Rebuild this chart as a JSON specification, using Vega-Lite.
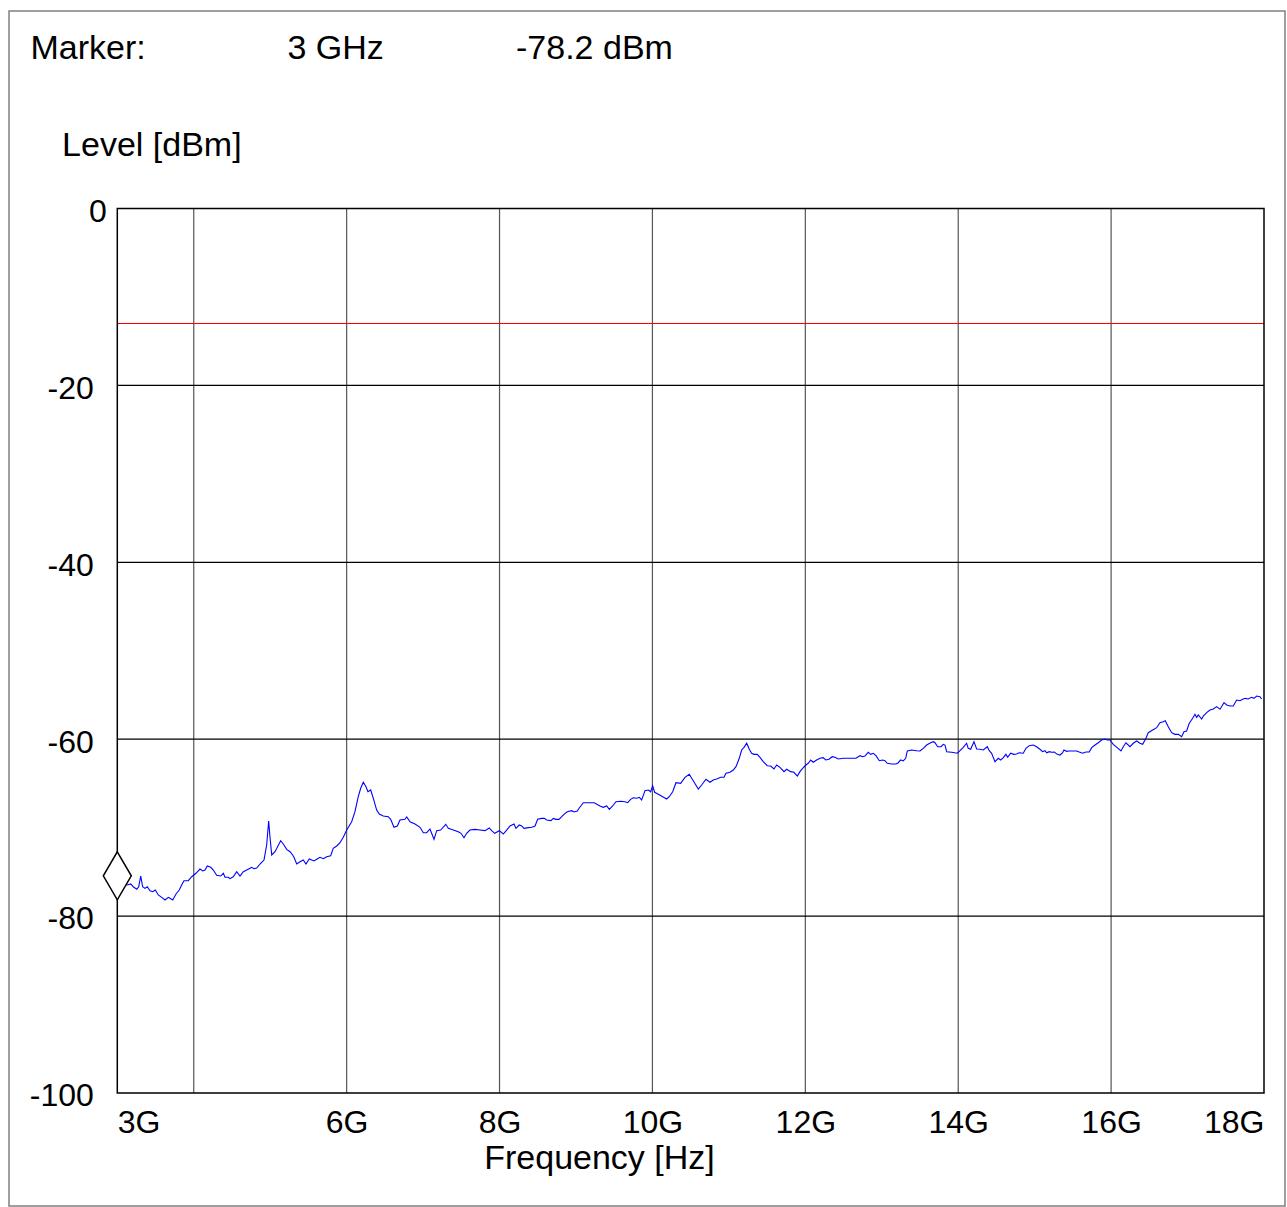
{
  "$schema": "https://vega.github.io/schema/vega-lite/v6.json",
  "autosize": {"type": "none"},
  "padding": {"left": 9, "top": 11, "right": 2, "bottom": 1},
  "width": 1276,
  "height": 1195,
  "background": "white",
  "config": {
    "font": "Liberation Sans",
    "view": {"stroke": "#808080", "strokeWidth": 1.5},
    "axis": {"labelColor": "black", "titleColor": "black", "labelFont": "Liberation Sans", "titleFont": "Liberation Sans", "labelFontWeight": "normal", "titleFontWeight": "normal"}
  },
  "title": {
    "text": "Marker:\u00a0\u00a0\u00a0\u00a0\u00a0\u00a0\u00a0\u00a0\u00a0\u00a0\u00a0\u00a0\u00a0\u00a0\u00a03 GHz\u00a0\u00a0\u00a0\u00a0\u00a0\u00a0\u00a0\u00a0\u00a0\u00a0\u00a0\u00a0\u00a0\u00a0-78.2 dBm",
    "anchor": "start",
    "frame": "group",
    "orient": "top",
    "offset": -33,
    "dx": 21.5,
    "dy": 49,
    "baseline": "alphabetic",
    "font": "Liberation Sans",
    "fontSize": 34,
    "fontWeight": "normal",
    "color": "black"
  },
  "datasets": {
    "trace": [
      {"f":3.000,"level":-76.00},{"f":3.131,"level":-76.48},{"f":3.175,"level":-76.37},{"f":3.209,"level":-76.68},{"f":3.254,"level":-76.97},{"f":3.280,"level":-76.68},{"f":3.306,"level":-75.47},{"f":3.332,"level":-76.68},{"f":3.362,"level":-76.86},{"f":3.392,"level":-76.68},{"f":3.428,"level":-77.13},{"f":3.463,"level":-77.24},{"f":3.497,"level":-77.05},{"f":3.536,"level":-77.61},{"f":3.581,"level":-77.88},{"f":3.624,"level":-78.18},{"f":3.667,"level":-77.88},{"f":3.689,"level":-77.99},{"f":3.725,"level":-78.18},{"f":3.768,"level":-77.50},{"f":3.811,"level":-77.05},{"f":3.842,"level":-76.48},{"f":3.872,"level":-76.00},{"f":3.929,"level":-76.00},{"f":3.973,"level":-75.55},{"f":4.029,"level":-75.16},{"f":4.082,"level":-74.68},{"f":4.117,"level":-74.90},{"f":4.147,"level":-74.79},{"f":4.177,"level":-74.34},{"f":4.222,"level":-74.48},{"f":4.256,"level":-74.79},{"f":4.300,"level":-75.39},{"f":4.353,"level":-75.47},{"f":4.387,"level":-75.16},{"f":4.409,"level":-75.61},{"f":4.452,"level":-75.61},{"f":4.474,"level":-75.77},{"f":4.517,"level":-75.55},{"f":4.562,"level":-74.98},{"f":4.605,"level":-75.47},{"f":4.648,"level":-74.98},{"f":4.693,"level":-74.79},{"f":4.736,"level":-74.60},{"f":4.758,"level":-74.48},{"f":4.788,"level":-74.64},{"f":4.823,"level":-74.56},{"f":4.867,"level":-74.11},{"f":4.919,"level":-73.66},{"f":4.954,"level":-71.96},{"f":4.980,"level":-69.25},{"f":4.997,"level":-71.02},{"f":5.020,"level":-73.09},{"f":5.063,"level":-72.72},{"f":5.137,"level":-71.48},{"f":5.171,"level":-71.85},{"f":5.216,"level":-72.45},{"f":5.259,"level":-72.72},{"f":5.294,"level":-73.09},{"f":5.311,"level":-73.35},{"f":5.347,"level":-74.11},{"f":5.390,"level":-73.85},{"f":5.433,"level":-73.66},{"f":5.468,"level":-74.11},{"f":5.511,"level":-73.55},
      {"f":5.573,"level":-73.77},{"f":5.608,"level":-73.58},{"f":5.651,"level":-73.35},{"f":5.695,"level":-73.51},{"f":5.739,"level":-73.28},{"f":5.791,"level":-73.17},{"f":5.825,"level":-72.34},{"f":5.870,"level":-72.07},{"f":5.913,"level":-71.70},{"f":5.956,"level":-71.09},{"f":6.001,"level":-70.27},{"f":6.066,"level":-69.33},{"f":6.109,"level":-68.20},{"f":6.152,"level":-66.50},{"f":6.184,"level":-65.55},{"f":6.218,"level":-64.87},{"f":6.253,"level":-65.37},{"f":6.279,"level":-65.94},{"f":6.315,"level":-65.74},{"f":6.349,"level":-66.68},{"f":6.393,"level":-68.01},{"f":6.427,"level":-68.46},{"f":6.479,"level":-68.68},{"f":6.545,"level":-68.76},{"f":6.576,"level":-69.06},{"f":6.619,"level":-69.96},{"f":6.663,"level":-69.81},{"f":6.698,"level":-69.14},{"f":6.763,"level":-69.06},{"f":6.786,"level":-68.80},{"f":6.829,"level":-69.33},{"f":6.894,"level":-69.59},{"f":6.960,"level":-69.96},{"f":7.003,"level":-70.57},{"f":7.047,"level":-70.57},{"f":7.090,"level":-70.15},{"f":7.143,"level":-71.32},{"f":7.178,"level":-70.34},{"f":7.230,"level":-70.27},{"f":7.296,"level":-69.62},{"f":7.330,"level":-70.08},{"f":7.395,"level":-70.27},{"f":7.460,"level":-70.46},{"f":7.496,"level":-70.64},{"f":7.535,"level":-71.14},{"f":7.570,"level":-70.64},{"f":7.613,"level":-70.27},{"f":7.679,"level":-70.19},{"f":7.744,"level":-70.27},{"f":7.810,"level":-70.34},{"f":7.866,"level":-70.04},{"f":7.897,"level":-70.34},{"f":7.937,"level":-70.64},{"f":7.997,"level":-70.34},
      {"f":8.049,"level":-70.72},{"f":8.093,"level":-70.27},{"f":8.137,"level":-69.81},{"f":8.189,"level":-69.59},{"f":8.215,"level":-70.08},{"f":8.258,"level":-69.70},{"f":8.290,"level":-69.81},{"f":8.320,"level":-70.08},{"f":8.376,"level":-70.00},{"f":8.421,"level":-69.96},{"f":8.464,"level":-69.81},{"f":8.499,"level":-69.06},{"f":8.551,"level":-68.95},{"f":8.585,"level":-68.95},{"f":8.617,"level":-69.14},{"f":8.673,"level":-69.21},{"f":8.703,"level":-68.95},{"f":8.738,"level":-69.06},{"f":8.778,"level":-69.06},{"f":8.813,"level":-68.76},{"f":8.843,"level":-68.49},{"f":8.886,"level":-68.20},{"f":8.944,"level":-68.08},{"f":8.974,"level":-68.23},{"f":9.017,"level":-68.12},{"f":9.043,"level":-67.78},{"f":9.096,"level":-67.18},{"f":9.161,"level":-67.18},{"f":9.239,"level":-67.18},{"f":9.314,"level":-67.55},{"f":9.357,"level":-67.70},{"f":9.402,"level":-67.55},{"f":9.436,"level":-67.93},{"f":9.480,"level":-67.55},{"f":9.523,"level":-67.07},{"f":9.589,"level":-67.02},{"f":9.641,"level":-67.07},{"f":9.676,"level":-67.18},{"f":9.715,"level":-66.80},{"f":9.750,"level":-66.62},{"f":9.794,"level":-66.68},{"f":9.828,"level":-66.57},{"f":9.859,"level":-66.87},{"f":9.903,"level":-65.82},{"f":9.946,"level":-65.74},{"f":9.977,"level":-65.94},{"f":10.003,"level":-65.26},{"f":10.029,"level":-66.00},{"f":10.077,"level":-66.23},{"f":10.134,"level":-66.50},{"f":10.186,"level":-66.76},{"f":10.220,"level":-66.50},{"f":10.265,"level":-65.94},{"f":10.308,"level":-64.92},{"f":10.369,"level":-64.99},{"f":10.426,"level":-64.31},{"f":10.482,"level":-63.97},
      {"f":10.542,"level":-64.81},{"f":10.600,"level":-65.63},{"f":10.644,"level":-65.18},{"f":10.700,"level":-64.53},{"f":10.753,"level":-64.87},{"f":10.796,"level":-64.61},{"f":10.840,"level":-64.50},{"f":10.893,"level":-64.31},{"f":10.936,"level":-64.31},{"f":10.962,"level":-63.86},{"f":11.014,"level":-63.74},{"f":11.058,"level":-63.48},{"f":11.093,"level":-63.11},{"f":11.136,"level":-62.16},{"f":11.167,"level":-61.22},{"f":11.198,"level":-60.92},{"f":11.233,"level":-60.46},{"f":11.267,"level":-61.14},{"f":11.298,"level":-61.59},{"f":11.328,"level":-61.71},{"f":11.371,"level":-61.71},{"f":11.407,"level":-62.05},{"f":11.450,"level":-62.54},{"f":11.502,"level":-63.00},{"f":11.547,"level":-63.03},{"f":11.590,"level":-63.37},{"f":11.625,"level":-62.92},{"f":11.668,"level":-63.18},{"f":11.721,"level":-63.67},{"f":11.756,"level":-63.40},{"f":11.808,"level":-63.67},{"f":11.851,"level":-63.74},{"f":11.895,"level":-64.16},{"f":11.930,"level":-63.67},{"f":11.965,"level":-63.29},{"f":12.008,"level":-62.92},{"f":12.039,"level":-62.72},{"f":12.070,"level":-62.35},{"f":12.104,"level":-62.61},{"f":12.148,"level":-62.35},{"f":12.192,"level":-62.16},{"f":12.235,"level":-62.09},{"f":12.266,"level":-62.35},{"f":12.309,"level":-62.27},{"f":12.352,"level":-61.98},{"f":12.388,"level":-62.05},{"f":12.431,"level":-62.24},{"f":12.497,"level":-62.16},{"f":12.584,"level":-62.16},{"f":12.662,"level":-62.16},{"f":12.693,"level":-61.98},{"f":12.715,"level":-61.86},{"f":12.750,"level":-61.98},{"f":12.780,"level":-61.90},{"f":12.823,"level":-61.48},{"f":12.855,"level":-61.71},{"f":12.889,"level":-61.59},{"f":12.924,"level":-61.86},{"f":12.968,"level":-62.43},
      {"f":13.012,"level":-62.35},{"f":13.042,"level":-62.43},{"f":13.072,"level":-62.73},{"f":13.129,"level":-62.80},{"f":13.186,"level":-62.80},{"f":13.216,"level":-62.66},{"f":13.247,"level":-62.35},{"f":13.281,"level":-62.46},{"f":13.313,"level":-62.16},{"f":13.334,"level":-61.33},{"f":13.391,"level":-61.22},{"f":13.457,"level":-61.30},{"f":13.500,"level":-61.33},{"f":13.543,"level":-61.03},{"f":13.587,"level":-60.66},{"f":13.640,"level":-60.40},{"f":13.674,"level":-60.28},{"f":13.696,"level":-60.40},{"f":13.731,"level":-60.85},{"f":13.775,"level":-60.85},{"f":13.805,"level":-60.58},{"f":13.827,"level":-60.66},{"f":13.849,"level":-61.41},{"f":13.914,"level":-61.48},{"f":13.988,"level":-61.59},{"f":14.023,"level":-61.30},{"f":14.066,"level":-60.92},{"f":14.110,"level":-60.46},{"f":14.131,"level":-61.03},{"f":14.163,"level":-61.14},{"f":14.206,"level":-60.28},{"f":14.241,"level":-61.11},{"f":14.285,"level":-61.14},{"f":14.328,"level":-61.22},{"f":14.380,"level":-60.85},{"f":14.406,"level":-61.30},{"f":14.437,"level":-61.59},{"f":14.481,"level":-62.54},{"f":14.524,"level":-62.16},{"f":14.555,"level":-62.35},{"f":14.590,"level":-62.09},{"f":14.624,"level":-61.71},{"f":14.647,"level":-62.05},{"f":14.686,"level":-61.59},{"f":14.729,"level":-61.71},{"f":14.764,"level":-61.68},{"f":14.798,"level":-61.53},{"f":14.851,"level":-61.59},{"f":14.886,"level":-61.03},{"f":14.929,"level":-60.73},{"f":14.982,"level":-60.66},{"f":15.026,"level":-60.85},{"f":15.069,"level":-61.14},{"f":15.104,"level":-61.41},{"f":15.135,"level":-61.30},{"f":15.157,"level":-61.53},{"f":15.191,"level":-61.41},{"f":15.222,"level":-61.48},{"f":15.256,"level":-61.45},{"f":15.296,"level":-61.71},{"f":15.331,"level":-61.79},{"f":15.366,"level":-61.53},{"f":15.383,"level":-61.22},{"f":15.418,"level":-61.37},{"f":15.453,"level":-61.33},
      {"f":15.505,"level":-61.33},{"f":15.549,"level":-61.33},{"f":15.583,"level":-61.45},{"f":15.628,"level":-61.59},{"f":15.671,"level":-61.45},{"f":15.714,"level":-61.45},{"f":15.746,"level":-60.96},{"f":15.789,"level":-60.66},{"f":15.832,"level":-60.40},{"f":15.876,"level":-60.09},{"f":15.920,"level":-59.98},{"f":15.950,"level":-60.09},{"f":15.985,"level":-60.09},{"f":16.028,"level":-60.58},{"f":16.080,"level":-60.96},{"f":16.129,"level":-61.33},{"f":16.159,"level":-60.85},{"f":16.194,"level":-60.40},{"f":16.247,"level":-60.85},{"f":16.290,"level":-60.46},{"f":16.334,"level":-60.20},{"f":16.377,"level":-60.46},{"f":16.413,"level":-60.58},{"f":16.456,"level":-59.90},{"f":16.486,"level":-59.26},{"f":16.544,"level":-58.96},{"f":16.596,"level":-58.70},{"f":16.639,"level":-58.13},{"f":16.682,"level":-58.02},{"f":16.708,"level":-57.91},{"f":16.748,"level":-58.59},{"f":16.792,"level":-59.26},{"f":16.835,"level":-59.45},{"f":16.878,"level":-59.45},{"f":16.923,"level":-59.72},{"f":16.953,"level":-59.15},{"f":16.988,"level":-59.07},{"f":17.022,"level":-58.20},{"f":17.067,"level":-57.64},{"f":17.097,"level":-57.19},{"f":17.119,"level":-57.53},{"f":17.140,"level":-57.26},{"f":17.185,"level":-57.72},{"f":17.206,"level":-57.38},{"f":17.250,"level":-57.00},{"f":17.293,"level":-56.70},{"f":17.337,"level":-56.59},{"f":17.381,"level":-56.32},{"f":17.424,"level":-56.62},{"f":17.459,"level":-56.13},{"f":17.477,"level":-55.87},{"f":17.512,"level":-56.13},{"f":17.555,"level":-56.25},{"f":17.598,"level":-56.25},{"f":17.642,"level":-55.57},{"f":17.686,"level":-55.65},{"f":17.721,"level":-55.49},{"f":17.753,"level":-55.38},{"f":17.794,"level":-55.45},{"f":17.838,"level":-55.26},{"f":17.869,"level":-55.38},{"f":17.904,"level":-55.12},{"f":17.947,"level":-55.19},{"f":17.969,"level":-55.45}
    ],
    "vgrid": [{"f":4},{"f":6},{"f":8},{"f":10},{"f":12},{"f":14},{"f":16}],
    "hgrid": [{"level":-20},{"level":-40},{"level":-60},{"level":-80}],
    "limit": [{"level":-13}],
    "marker": [{"f":3,"level":-75.45}]
  },
  "layer": [
    {
      "data": {"name": "vgrid"},
      "mark": {"type": "rule", "color": "#555555", "strokeWidth": 1.2},
      "encoding": {
        "x": {"field": "f", "type": "quantitative", "scale": {"domain": [3, 18], "range": [108.3, 1255], "nice": false, "zero": false}},
        "y": {"datum": -100, "type": "quantitative", "scale": {"domain": [-100, 0], "range": [1082, 197.5], "nice": false, "zero": false}},
        "y2": {"datum": 0}
      }
    },
    {
      "data": {"name": "hgrid"},
      "mark": {"type": "rule", "color": "black", "strokeWidth": 1.2},
      "encoding": {
        "y": {"field": "level", "type": "quantitative"},
        "x": {"datum": 3, "type": "quantitative"},
        "x2": {"datum": 18}
      }
    },
    {
      "data": {"name": "limit"},
      "mark": {"type": "rule", "stroke": "#ee0000", "color": "#ee0000", "strokeWidth": 1},
      "encoding": {
        "y": {"field": "level", "type": "quantitative"},
        "x": {"datum": 3, "type": "quantitative"},
        "x2": {"datum": 18}
      }
    },
    {
      "data": {"name": "trace"},
      "mark": {"type": "line", "color": "#0000ff", "strokeWidth": 1.1},
      "encoding": {
        "x": {
          "field": "f", "type": "quantitative",
          "axis": {
            "values": [3, 6, 8, 10, 12, 14, 16, 18],
            "labelExpr": "datum.value + 'G'",
            "labelFlush": true,
            "labelOverlap": false,
            "labelFontSize": 32,
            "labelBaseline": "alphabetic",
            "labelPadding": 39.7,
            "ticks": false,
            "domain": false,
            "grid": false,
            "offset": -113,
            "title": "Frequency [Hz]",
            "titleFontSize": 34,
            "titleAnchor": null,
            "titleAlign": "center",
            "titleBaseline": "alphabetic",
            "titleX": 590,
            "titleY": 75
          }
        },
        "y": {
          "field": "level", "type": "quantitative",
          "axis": {
            "values": [0, -20, -40, -60, -80, -100],
            "labelExpr": "'' + datum.value",
            "labelOverlap": false,
            "labelFontSize": 32,
            "labelBaseline": "alphabetic",
            "labelOffset": 12.8,
            "labelPadding": {"condition": {"test": "datum.value == 0", "value": 11}, "value": 24},
            "ticks": false,
            "domain": false,
            "grid": false,
            "offset": -108.3,
            "title": "Level [dBm]",
            "titleFontSize": 34,
            "titleAngle": 0,
            "titleAnchor": null,
            "titleAlign": "left",
            "titleBaseline": "alphabetic",
            "titleX": -55.7,
            "titleY": 144
          }
        }
      }
    },
    {
      "data": {"values": [{}]},
      "mark": {"type": "rect", "fill": null, "fillOpacity": 0, "stroke": "black", "strokeWidth": 1.5},
      "encoding": {
        "x": {"datum": 3, "type": "quantitative"},
        "x2": {"datum": 18},
        "y": {"datum": -100, "type": "quantitative"},
        "y2": {"datum": 0}
      }
    },
    {
      "data": {"name": "marker"},
      "mark": {"type": "point", "shape": "M0,-1L0.583,0L0,1L-0.583,0Z", "size": 2304, "filled": true, "fill": "white", "stroke": "black", "strokeWidth": 1.5, "opacity": 1},
      "encoding": {
        "x": {"field": "f", "type": "quantitative"},
        "y": {"field": "level", "type": "quantitative"}
      }
    }
  ]
}
